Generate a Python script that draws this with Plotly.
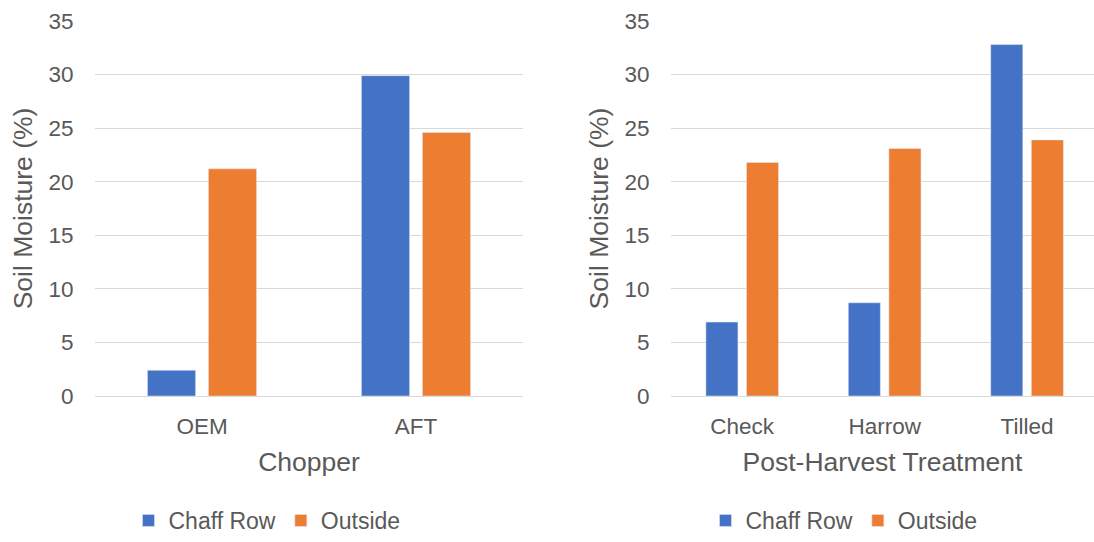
import plotly.graph_objects as go

choppers = ["OEM", "AFT"]
chopper_chaff = [2.4, 29.9]
chopper_outside = [21.2, 24.6]

treatments = ["Check", "Harrow", "Tilled"]
treat_chaff = [6.9, 8.7, 32.8]
treat_outside = [21.8, 23.1, 23.9]

series_names = ["Chaff Row", "Outside"]
colors = ["#4472C4", "#ED7D31"]

W, H = 1094, 542
font_family = "Arial, Liberation Sans, sans-serif"
tick_color = "#595959"
TICK_SIZE = 22.5
TITLE_SIZE = 26.5
LEGEND_SIZE = 23

fig = go.Figure()
fig.add_trace(go.Bar(x=choppers, y=chopper_chaff, name=series_names[0], marker_color=colors[0],
                     xaxis="x", yaxis="y", legend="legend"))
fig.add_trace(go.Bar(x=choppers, y=chopper_outside, name=series_names[1], marker_color=colors[1],
                     xaxis="x", yaxis="y", legend="legend"))
fig.add_trace(go.Bar(x=treatments, y=treat_chaff, name=series_names[0], marker_color=colors[0],
                     xaxis="x2", yaxis="y2", legend="legend2"))
fig.add_trace(go.Bar(x=treatments, y=treat_outside, name=series_names[1], marker_color=colors[1],
                     xaxis="x2", yaxis="y2", legend="legend2"))

top, bottom = 21.3, 395.7
axis_common = dict(showgrid=False, showline=True, linecolor="#d9d9d9", linewidth=1,
                   automargin=False,
                   tickfont=dict(size=TICK_SIZE, color=tick_color, family=font_family),
                   ticks="outside", ticklen=10, tickcolor="rgba(0,0,0,0)")
title_font = dict(size=TITLE_SIZE, color=tick_color, family=font_family)
yaxis_common = dict(range=[0, 35], dtick=5, showgrid=True, gridcolor="#d9d9d9", gridwidth=1,
                    zeroline=False, showline=False, automargin=False,
                    tickfont=dict(size=TICK_SIZE, color=tick_color, family=font_family),
                    ticks="outside", ticklen=16, tickcolor="rgba(0,0,0,0)",
                    title=dict(text="Soil Moisture (%)", standoff=8, font=title_font))

legend_common = dict(orientation="h", xref="container", yref="container",
                     xanchor="center", y=-5 / H, yanchor="bottom",
                     font=dict(size=LEGEND_SIZE, color=tick_color, family=font_family),
                     itemclick=False, itemdoubleclick=False)

fig.update_layout(
    width=W, height=H,
    margin=dict(l=0, r=0, t=top, b=H - bottom, autoexpand=False),
    plot_bgcolor="white", paper_bgcolor="white",
    barmode="group", bargap=0.43, bargroupgap=0.21,
    font=dict(family=font_family, color=tick_color),
    xaxis=dict(domain=[95 / W, 523 / W], range=[-0.5, 1.5], anchor="y",
               title=dict(text="Chopper", standoff=14, font=title_font), **axis_common),
    yaxis=dict(domain=[0, 1], anchor="x", **yaxis_common),
    xaxis2=dict(domain=[671 / W, 1.0], range=[-0.5, 2.47], anchor="y2",
                title=dict(text="Post-Harvest Treatment", standoff=14, font=title_font), **axis_common),
    yaxis2=dict(domain=[0, 1], anchor="x2", **yaxis_common),
    legend=dict(x=267 / W, **legend_common),
    legend2=dict(x=844 / W, **legend_common),
)

fig.write_html("out.html", config={"displayModeBar": False},
               post_script="document.body.style.margin='0';document.body.style.overflow='hidden';")
